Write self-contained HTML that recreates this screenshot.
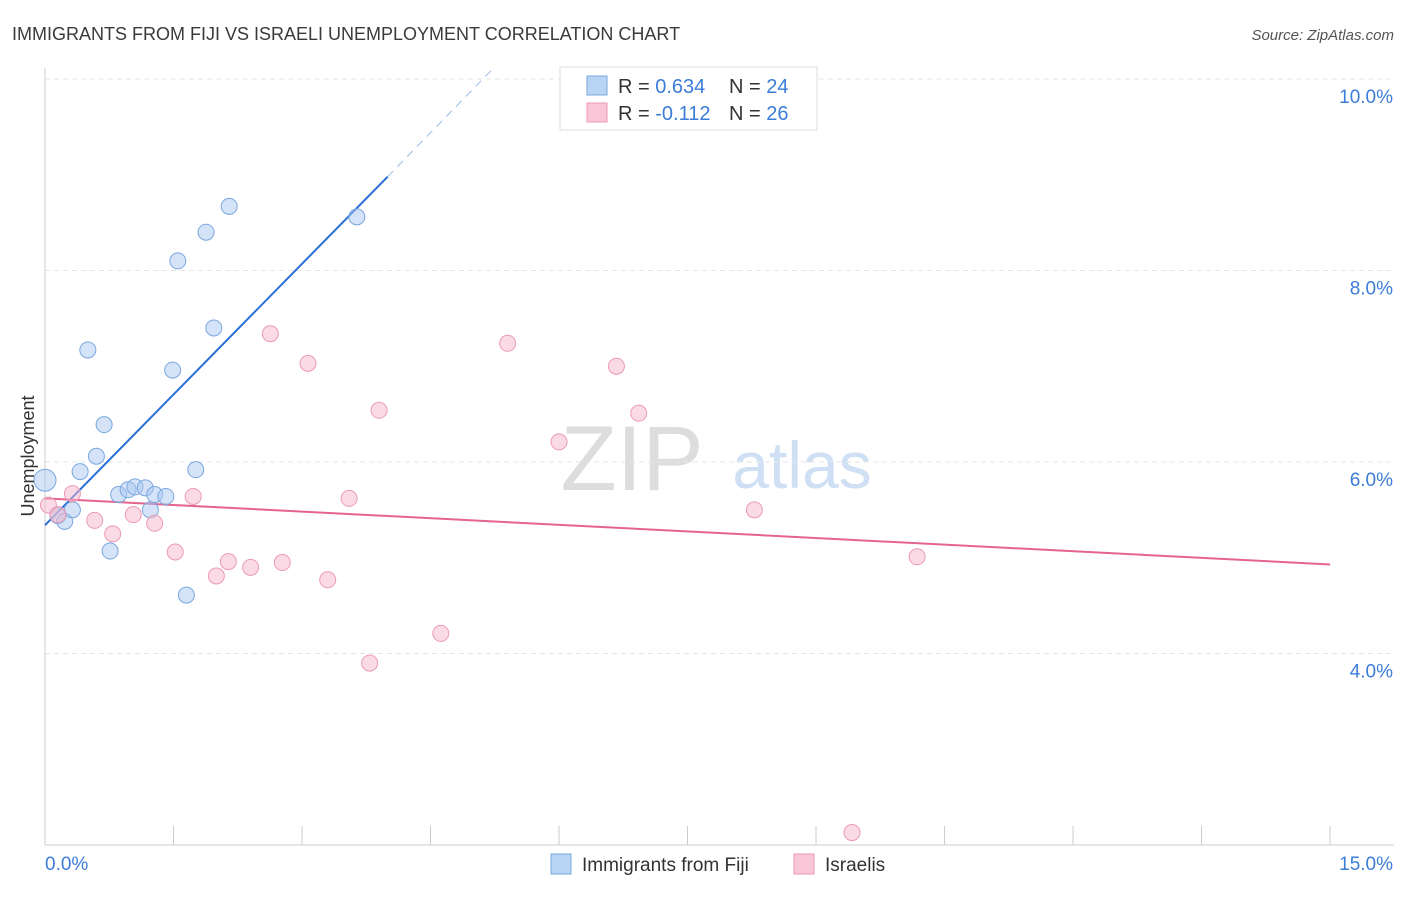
<!DOCTYPE html>
<html><head><meta charset="utf-8"><style>
body{margin:0;background:#fff;font-family:"Liberation Sans",sans-serif;}
svg text{font-family:"Liberation Sans",sans-serif;}
</style></head><body>
<svg id="chart" width="1406" height="892" xmlns="http://www.w3.org/2000/svg">
<text x="12" y="40" font-size="18" fill="#3a3a3a">IMMIGRANTS FROM FIJI VS ISRAELI UNEMPLOYMENT CORRELATION CHART</text>
<text x="1394" y="40" font-size="15" fill="#555" text-anchor="end" font-style="italic">Source: ZipAtlas.com</text>
<text x="632" y="490" font-size="92" fill="#ddd" text-anchor="middle" font-family="Liberation Serif">ZIP</text>
<text x="802" y="488" font-size="66" fill="#cfe0f5" text-anchor="middle">atlas</text>
<g id="grid"></g><g id="axes"></g><g id="lines"></g><g id="points"></g>
<text transform="translate(34,456) rotate(-90)" font-size="18" fill="#333" text-anchor="middle">Unemployment</text>
<g>
<rect x="560" y="67" width="257" height="63" fill="#fff" stroke="#ddd"/>
<rect x="587" y="76" width="20" height="19" fill="#b8d4f5" stroke="#7aa7e0"/>
<rect x="587" y="103" width="20" height="19" fill="#f8c6d6" stroke="#ec9ab5"/>
<text x="618" y="93" font-size="20" fill="#333">R = <tspan fill="#3b7dd8">0.634</tspan></text>
<text x="729" y="93" font-size="20" fill="#333">N = <tspan fill="#3b7dd8">24</tspan></text>
<text x="618" y="120" font-size="20" fill="#333">R = <tspan fill="#3b7dd8">-0.112</tspan></text>
<text x="729" y="120" font-size="20" fill="#333">N = <tspan fill="#3b7dd8">26</tspan></text>
</g>
<g>
<rect x="551" y="854" width="20" height="20" fill="#b8d4f5" stroke="#7aa7e0"/>
<text x="582" y="871" font-size="19" fill="#333">Immigrants from Fiji</text>
<rect x="794" y="854" width="20" height="20" fill="#f8c6d6" stroke="#ec9ab5"/>
<text x="825" y="871" font-size="19" fill="#333">Israelis</text>
</g>
</svg>
<script>
const xTicks=[0,1.5,3,4.5,6,7.5,9,10.5,12,13.5,15];
const yTicks=[4,6,8,10];
const yTickLabels=["4.0%","6.0%","8.0%","10.0%"];
const fijiX=[0.00,0.15,0.23,0.32,0.41,0.50,0.60,0.69,0.76,0.86,0.97,1.05,1.17,1.23,1.28,1.41,1.49,1.55,1.65,1.76,1.88,1.97,2.15,3.64];
const fijiY=[5.81,5.44,5.38,5.50,5.90,7.17,6.06,6.39,5.07,5.66,5.71,5.74,5.73,5.50,5.66,5.64,6.96,8.10,4.61,5.92,8.40,7.40,8.67,8.56];
const isrX=[0.04,0.15,0.32,0.58,0.79,1.03,1.28,1.52,1.73,2.00,2.14,2.40,2.63,2.77,3.07,3.30,3.55,3.79,3.90,4.62,5.40,6.00,6.67,6.93,8.28,9.42,10.18];
const isrY=[5.55,5.45,5.67,5.39,5.25,5.45,5.36,5.06,5.64,4.81,4.96,4.90,7.34,4.95,7.03,4.77,5.62,3.90,6.54,4.21,7.24,6.21,7.00,6.51,5.50,2.13,5.01];
const fijiLine=[[0,5.34],[4.0,8.98]];
const fijiDash=[[4.0,8.98],[5.22,10.1]];
const isrLine=[[0,5.62],[15,4.93]];
const NS="http://www.w3.org/2000/svg";
const X=v=>45+v*85.67, Y=v=>79+(10-v)*95.75;
function mk(tag,attrs,parent){const e=document.createElementNS(NS,tag);for(const k in attrs)e.setAttribute(k,attrs[k]);document.getElementById(parent).appendChild(e);return e;}
yTicks.forEach((t,i)=>{
 const g=mk('line',{x1:45,x2:1394,y1:Y(t),y2:Y(t),stroke:'#e6e6e6','stroke-dasharray':'5,4'},'grid');
 
 
 const l=mk('text',{x:1393,y:Y(t)+24,'font-size':19,fill:'#3b7dd8','text-anchor':'end'},'grid');
 l.textContent=yTickLabels[i];
 
 
});
const ax=mk('line',{x1:45,x2:1394,y1:845,y2:845,stroke:'#ccc'},'axes');


const ay=mk('line',{x1:45,x2:45,y1:68,y2:845,stroke:'#ccc'},'axes');


xTicks.forEach(t=>{const e=mk('line',{x1:X(t),x2:X(t),y1:826,y2:845,stroke:'#ccc'},'axes');
 
 });
const l0=mk('text',{x:45,y:870,'font-size':19,fill:'#3b7dd8'},'axes');l0.textContent='0.0%';


const l1=mk('text',{x:1393,y:870,'font-size':19,fill:'#3b7dd8','text-anchor':'end'},'axes');l1.textContent='15.0%';


fijiX.forEach((v,i)=>{const c=mk('circle',{cx:X(v),cy:Y(fijiY[i]),r:i==0?11:8,fill:'rgba(169,200,239,0.5)',stroke:'#7aa7e0','stroke-width':1},'points');
 
 });
isrX.forEach((v,i)=>{const c=mk('circle',{cx:X(v),cy:Y(isrY[i]),r:8,fill:'rgba(245,184,203,0.5)',stroke:'#ec9ab5','stroke-width':1},'points');
 
 });
const a=mk('line',{x1:X(fijiLine[0][0]),y1:Y(fijiLine[0][1]),x2:X(fijiLine[1][0]),y2:Y(fijiLine[1][1]),stroke:'#2a6fd6','stroke-width':2},'lines');


const b=mk('line',{x1:X(fijiDash[0][0]),y1:Y(fijiDash[0][1]),x2:X(fijiDash[1][0]),y2:Y(fijiDash[1][1]),stroke:'#9bbbe8','stroke-width':1,'stroke-dasharray':'8,6'},'lines');


const c=mk('line',{x1:X(isrLine[0][0]),y1:Y(isrLine[0][1]),x2:X(isrLine[1][0]),y2:Y(isrLine[1][1]),stroke:'#e5638f','stroke-width':2},'lines');


</script>
</body></html>
